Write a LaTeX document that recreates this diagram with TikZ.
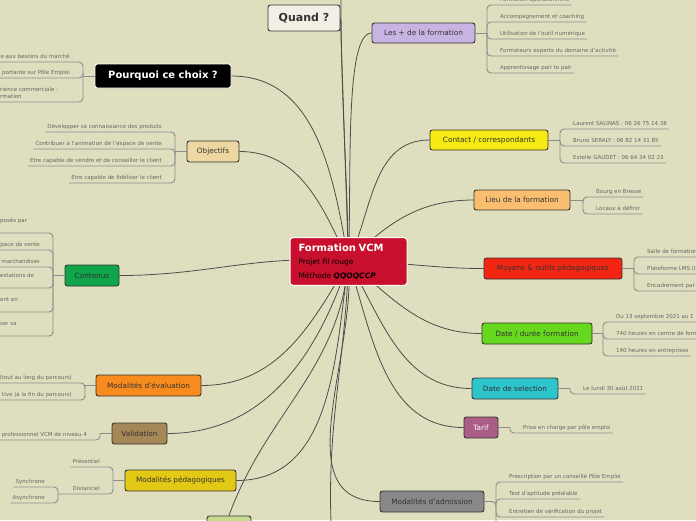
\documentclass[tikz,border=0pt]{standalone}
\usepackage{fontspec}
\setmainfont{DejaVu Sans}
\usepackage{xcolor}
\usetikzlibrary{positioning,calc}
\pgfdeclarelayer{back}
\pgfsetlayers{back,main}

\definecolor{paper}{RGB}{223,223,191}
\definecolor{vcmred}{RGB}{200,16,46}
\definecolor{lilas}{RGB}{200,180,227}
\definecolor{sable}{RGB}{238,215,161}
\definecolor{citron}{RGB}{245,234,20}
\definecolor{abricot}{RGB}{249,190,112}
\definecolor{sapin}{RGB}{16,165,74}
\definecolor{rouge}{RGB}{242,38,19}
\definecolor{lime}{RGB}{102,216,30}
\definecolor{cyan2}{RGB}{46,196,204}
\definecolor{mauve}{RGB}{170,93,134}
\definecolor{gris}{RGB}{136,136,136}
\definecolor{orange2}{RGB}{247,139,30}
\definecolor{brun}{RGB}{165,135,88}
\definecolor{moutarde}{RGB}{226,201,21}
\definecolor{olive}{RGB}{199,219,140}
\definecolor{creme}{RGB}{242,240,228}

\begin{document}
\begin{tikzpicture}[x=1pt,y=-1pt,
  br/.style={draw=black!80,line width=0.9pt,rounded corners=2.5pt,inner sep=0pt,
    font=\fontsize{7.3}{8.5}\selectfont,text=black!80},
  lf/.style={inner xsep=2pt,inner ysep=2.5pt,text depth=1pt,align=left,
    font=\fontsize{5.5}{6.6}\selectfont,text=black!60},
  ed/.style={draw=black!70,line width=0.8pt},
  ul/.style={draw=black!45,line width=0.9pt,rounded corners=4pt}]
\useasboundingbox (0,0) rectangle (696,520);
\begin{pgfonlayer}{back}
\fill[paper] (0,0) rectangle (696,520);
\end{pgfonlayer}

% centre
\node[draw=white,line width=1pt,rounded corners=3pt,fill=vcmred,inner xsep=8.5pt,inner ysep=6pt,
  text width=100pt,align=left,font=\fontsize{7.5}{13.5}\selectfont] (vcm) at (348.5,261.5)
  {{\color{white}\fontsize{10}{13.5}\selectfont\bfseries Formation VCM}\\Projet fil rouge\\Méthode \textbf{\textit{QQOQCCP}}};

% branches
\node[br,fill=creme,minimum width=72pt,minimum height=26pt,font=\fontsize{11}{12}\selectfont\bfseries] (quand) at (304,18) {Quand ?};
\node[br,fill=lilas,minimum width=103pt,minimum height=20pt] (plus) at (423.5,33) {Les + de la formation};
\node[br,draw=white,fill=black,text=white,minimum width=136pt,minimum height=24pt,font=\fontsize{10}{12}\selectfont\bfseries] (pq) at (163,76) {Pourquoi ce choix ?};
\node[br,fill=sable,minimum width=52pt,minimum height=21pt] (obj) at (213,151.5) {Objectifs};
\node[br,fill=citron,minimum width=118pt,minimum height=20pt] (contact) at (489,140) {Contact / correspondants};
\node[br,fill=abricot,minimum width=96pt,minimum height=20pt] (lieu) at (522,200) {Lieu de la formation};
\node[br,fill=sapin,minimum width=54pt,minimum height=21pt] (cont) at (92,275.5) {Contenus};
\node[br,fill=rouge,minimum width=138pt,minimum height=21pt] (moy) at (553,268.5) {Moyens \& outils pédagogiques};
\node[br,fill=lime,minimum width=110pt,minimum height=21pt] (duree) at (537,333.5) {Date / durée formation};
\node[br,fill=cyan2,minimum width=86pt,minimum height=21pt] (sel) at (515,388.5) {Date de selection};
\node[br,fill=mauve,text=white,minimum width=34pt,minimum height=21pt] (tarif) at (481,427.5) {Tarif};
\node[br,fill=gris,minimum width=104pt,minimum height=21pt] (adm) at (432,501.5) {Modalités d'admission};
\node[br,fill=orange2,minimum width=105pt,minimum height=21pt] (eval) at (148.5,385.5) {Modalités d'évaluation};
\node[br,fill=brun,minimum width=55pt,minimum height=21pt] (valid) at (139.5,433.5) {Validation};
\node[br,fill=moutarde,minimum width=111pt,minimum height=21pt] (peda) at (180.5,480.5) {Modalités pédagogiques};
\node[br,fill=olive,minimum width=44pt,minimum height=21pt] (bas) at (229,526.5) {};
\coordinate (haut) at (341,-2);
\coordinate (sud) at (331,522);

\begin{pgfonlayer}{back}
\draw[ed] (vcm.center) to[out=91,in=-90] (haut);
\draw[ed] (vcm.center) -- (quand.east);
\draw[ed] (vcm.center) to[out=88,in=180,in looseness=0.3] (plus.west);
\draw[ed] (vcm.center) to[out=100,in=0] (pq.east);
\draw[ed] (vcm.center) to[out=115,in=0] (obj.east);
\draw[ed] (vcm.center) to[out=65,in=180] (contact.west);
\draw[ed] (vcm.center) to[out=45,in=180] (lieu.west);
\draw[ed] (vcm.center) to[out=175,in=0] (cont.east);
\draw[ed] (vcm.center) to[out=0,in=180] (moy.west);
\draw[ed] (vcm.center) to[out=-40,in=180] (duree.west);
\draw[ed] (vcm.center) to[out=-60,in=180] (sel.west);
\draw[ed] (vcm.center) to[out=-72,in=180] (tarif.west);
\draw[ed] (vcm.center) to[out=-85,in=180] (adm.west);
\draw[ed] (vcm.center) to[out=-120,in=0] (eval.east);
\draw[ed] (vcm.center) to[out=-108,in=0] (valid.east);
\draw[ed] (vcm.center) to[out=-98,in=0] (peda.east);
\draw[ed] (vcm.center) to[out=-95,in=70] (bas.north);
\draw[ed] (vcm.center) to[out=-92,in=92] (sud);
\end{pgfonlayer}

% les + de la formation
\coordinate (plusj) at (487,33);
\node[lf,anchor=south west] (plus1) at (498,5) {Formation opérationnelle};
\node[lf,anchor=south west] (plus2) at (498,22) {Accompagnement et coaching};
\node[lf,anchor=south west] (plus3) at (498,39) {Utilisation de l'outil numérique};
\node[lf,anchor=south west] (plus4) at (498,56) {Formateurs experts du domaine d'activité};
\node[lf,anchor=south west] (plus5) at (498,73) {Apprentissage pair to pair};
\draw[ul] (plus) -- (plusj);
\draw[ul] (plusj) |- (plus1.south east);
\draw[ul] (plusj) |- (plus2.south east);
\draw[ul] (plusj) |- (plus3.south east);
\draw[ul] (plusj) |- (plus4.south east);
\draw[ul] (plusj) |- (plus5.south east);

% pourquoi ce choix
\coordinate (pqj) at (83,76);
\node[lf,anchor=south east] (pq1) at (72,62) {e aux besoins du marché};
\node[lf,anchor=south east] (pq2) at (72,78) {portante sur Pôle Emploi};
\node[lf,anchor=south west] (pq3) at (-2,102) {rience commerciale :\\rmation};
\draw[ul] (pq) -- (pqj);
\draw[ul] (pqj) |- (pq1.south west);
\draw[ul] (pqj) |- (pq2.south west);
\draw[ul] (pqj) |- (pq3.south west);

% objectifs
\coordinate (objj) at (175,151.5);
\node[lf,anchor=south east] (obj1) at (164,132) {Développer sa connaissance des produits};
\node[lf,anchor=south east] (obj2) at (164,149) {Contribuer à l'animation de l'espace de vente};
\node[lf,anchor=south east] (obj3) at (164,166) {Etre capable de vendre et de conseiller le client};
\node[lf,anchor=south east] (obj4) at (164,183) {Etre capable de fidéliser le client};
\draw[ul] (obj) -- (objj);
\draw[ul] (objj) |- (obj1.south west);
\draw[ul] (objj) |- (obj2.south west);
\draw[ul] (objj) |- (obj3.south west);
\draw[ul] (objj) |- (obj4.south west);

% contact
\coordinate (contactj) at (560,140);
\node[lf,anchor=south west] (ct1) at (571,129) {Laurent SALINAS : 06 26 75 14 38};
\node[lf,anchor=south west] (ct2) at (571,146) {Bruno SERALY : 06 82 14 31 85};
\node[lf,anchor=south west] (ct3) at (571,163) {Estelle GAUDET : 06 64 34 02 23};
\draw[ul] (contact) -- (contactj);
\draw[ul] (contactj) |- (ct1.south east);
\draw[ul] (contactj) |- (ct2.south east);
\draw[ul] (contactj) |- (ct3.south east);

% lieu
\coordinate (lieuj) at (583,200);
\node[lf,anchor=south west] (li1) at (594,197) {Bourg en Bresse};
\node[lf,anchor=south west] (li2) at (594,214) {Locaux à définir};
\draw[ul] (lieu) -- (lieuj);
\draw[ul] (lieuj) |- (li1.south east);
\draw[ul] (lieuj) |- (li2.south east);

% contenus
\coordinate (contj) at (53,275.5);
\node[lf,anchor=south west] (co1) at (-2,233) {posés par\\\mbox{}};
\node[lf,anchor=south east] (co2) at (42,250) {pace de vente};
\node[lf,anchor=south east] (co3) at (42,267) {marchandises};
\node[lf,anchor=south west] (co4) at (-2,288) {estations de\\\mbox{}};
\node[lf,anchor=south west] (co5) at (-2,312) {ent en\\\mbox{}};
\node[lf,anchor=south west] (co6) at (-2,336) {ser sa\\\mbox{}};
\draw[ul] (cont) -- (contj);
\draw[ul] (contj) |- (co1.south west);
\draw[ul] (contj) |- (co2.south west);
\draw[ul] (contj) |- (co3.south west);
\draw[ul] (contj) |- (co4.south west);
\draw[ul] (contj) |- (co5.south west);
\draw[ul] (contj) |- (co6.south west);

% moyens
\coordinate (moyj) at (634,268.5);
\node[lf,anchor=south west] (mo1) at (645,257) {Salle de formation};
\node[lf,anchor=south west] (mo2) at (645,274) {Plateforme LMS (I};
\node[lf,anchor=south west] (mo3) at (645,291) {Encadrement par};
\draw[ul] (moy) -- (moyj);
\draw[ul] (moyj) |- (mo1.south east);
\draw[ul] (moyj) |- (mo2.south east);
\draw[ul] (moyj) |- (mo3.south east);

% date / duree
\coordinate (dureej) at (603,333.5);
\node[lf,anchor=south west] (du1) at (614,322) {Du 13 septembre 2021 au 1};
\node[lf,anchor=south west] (du2) at (614,339) {740 heures en centre de form};
\node[lf,anchor=south west] (du3) at (614,356) {140 heures en entreprises};
\draw[ul] (duree) -- (dureej);
\draw[ul] (dureej) |- (du1.south east);
\draw[ul] (dureej) |- (du2.south east);
\draw[ul] (dureej) |- (du3.south east);

% selection, tarif
\coordinate (selj) at (570,388.5);
\node[lf,anchor=south west] (se1) at (581,394) {Le lundi 30 août 2021};
\draw[ul] (sel) -- (selj);
\draw[ul] (selj) |- (se1.south east);
\coordinate (tarifj) at (510,427.5);
\node[lf,anchor=south west] (ta1) at (521,433) {Prise en charge par pôle emploi};
\draw[ul] (tarif) -- (tarifj);
\draw[ul] (tarifj) |- (ta1.south east);

% admission
\coordinate (admj) at (496,501.5);
\coordinate (admb) at (496,525);
\node[lf,anchor=south west] (ad1) at (507,482) {Prescription par un conseillé Pôle Emploi};
\node[lf,anchor=south west] (ad2) at (507,499) {Test d'aptitude préalable};
\node[lf,anchor=south west] (ad3) at (507,517) {Entretien de vérification du projet};
\draw[ul] (adm) -- (admj) -- (admb);
\draw[ul] (admj) |- (ad1.south east);
\draw[ul] (admj) |- (ad2.south east);
\draw[ul] (admj) |- (ad3.south east);

% evaluation, validation
\coordinate (evalj) at (85,385.5);
\node[lf,anchor=south east] (ev1) at (74,383) {(tout au long du parcours)};
\node[lf,anchor=south east] (ev2) at (74,400) {tive (à la fin du parcours)};
\draw[ul] (eval) -- (evalj);
\draw[ul] (evalj) |- (ev1.south west);
\draw[ul] (evalj) |- (ev2.south west);
\coordinate (validj) at (100,433.5);
\node[lf,anchor=south east] (va1) at (89,440) {professionnel VCM de niveau 4};
\draw[ul] (valid) -- (validj);
\draw[ul] (validj) |- (va1.south west);

% modalites pedagogiques
\coordinate (pedaj) at (113,480.5);
\coordinate (distj) at (58,494);
\node[lf,anchor=south east] (pe1) at (102,467) {Présentiel};
\node[lf,anchor=south east] (pe2) at (102,494) {Distanciel};
\node[lf,anchor=south east] (pe3) at (47,487) {Synchrone};
\node[lf,anchor=south east] (pe4) at (47,503) {Asynchrone};
\draw[ul] (peda) -- (pedaj);
\draw[ul] (pedaj) |- (pe1.south west);
\draw[ul] (pedaj) |- (distj);
\draw[ul] (distj) |- (pe3.south west);
\draw[ul] (distj) |- (pe4.south west);
\end{tikzpicture}
\end{document}
